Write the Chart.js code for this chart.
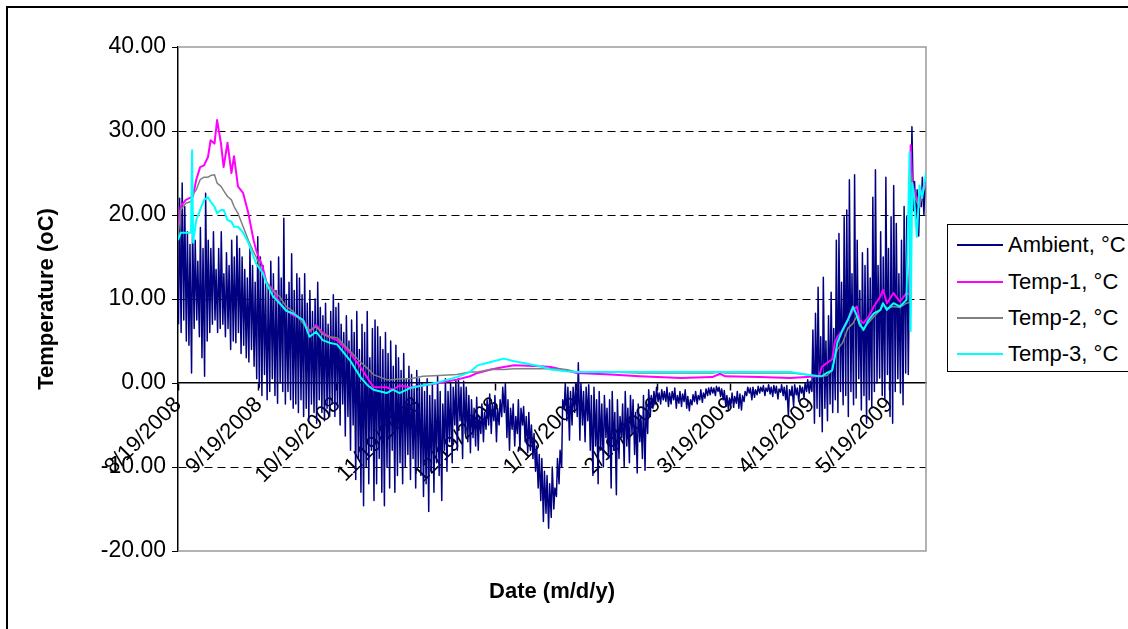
<!DOCTYPE html>
<html>
<head>
<meta charset="utf-8">
<script src="https://cdn.jsdelivr.net/npm/chart.js@4.4.0/dist/chart.umd.min.js"></script>
<style>
  html, body { margin: 0; padding: 0; background: #fff; overflow: hidden; }
  #wrap { position: relative; width: 1128px; height: 629px; font-family: "Liberation Sans", Arial, sans-serif; }
  #frame { position: absolute; left: 6px; top: 6px; width: 1200px; height: 700px; border: 2px solid #000; }
  #graphCanvas { position: absolute; left: 0; top: 0; }
  #legend { position: absolute; left: 947px; top: 224px; width: 220px; height: 146px; border: 1.5px solid #000; background: #fff; }
  .item { position: absolute; left: 0; height: 26px; width: 220px; }
  .swatch { position: absolute; left: 9px; top: 12px; width: 46px; height: 2px; }
  .label { position: absolute; left: 60px; top: 0; font-size: 22px; line-height: 26px; color: #000; white-space: nowrap; }
</style>
</head>
<body>
<div id="wrap">
  <div id="frame"></div>
  <canvas id="graphCanvas" width="1128" height="629"></canvas>
  <div id="legend"></div>
</div>
<script>
// x axis: days since 8/19/2008
var tickDays = [0, 31, 61, 92, 122, 153, 184, 212, 243, 273];
var tickLabels = ['8/19/2008', '9/19/2008', '10/19/2008', '11/19/2008', '12/19/2008',
                  '1/19/2009', '2/19/2009', '3/19/2009', '4/19/2009', '5/19/2009'];

var seriesNames = ['Ambient, °C', 'Temp-1, °C', 'Temp-2, °C', 'Temp-3, °C'];
var seriesColors = ['#000080', '#ff00ff', '#808080', '#00ffff'];

// ambient, daily high / low (day 0 = 8/19/2008)
var ambientHigh = [
  22.0, 23.8, 21.0, 18.0, 16.5, 19.0, 17.0, 14.5, 18.5, 16.0,
  22.6, 17.0, 16.0, 18.0, 13.5, 16.0, 18.0, 13.0, 15.5, 14.0,
  17.0, 15.0, 17.5, 16.0, 15.0, 13.5, 12.5, 16.0, 14.0, 12.0,
  17.4, 15.0, 14.0, 12.0, 11.5, 14.5, 13.0, 11.0, 15.0, 12.5,
  19.6, 10.5, 12.0, 15.4, 11.0, 13.0, 12.5, 10.5, 13.0, 9.5,
  11.0, 8.5, 10.0, 12.0, 9.0, 8.0, 9.5, 7.0, 8.5, 10.5,
  9.0, 9.5, 7.0, 6.0, 8.0, 5.0, 7.5, 6.0, 8.5, 4.0,
  7.0, 6.0, 8.5, 3.0, 6.5, 7.5, 6.7, 5.5, 4.0, 6.0,
  3.5, 5.0, 2.0, 4.5, 3.0, 1.5, 3.5, 0.5, 2.0, 1.0,
  -0.5, 1.5, 0.5, 0.0, -1.0, 0.5, -1.5, 0.0, -2.0, 0.8,
  -1.0, -2.5, 0.5, -1.0, 0.0, -0.5, 0.3, 0.5, -0.5, 0.2,
  -0.5, -1.5, -2.0, -3.0, -1.7, -4.0, -2.5, -3.5, -2.0, -1.3,
  -2.5, -1.5, -3.0, -2.0, -0.5, 0.0, -2.0, -3.0, -2.5, -4.0,
  -2.0, -3.0, -2.8, -4.0, -3.5, -5.0, -6.0, -7.5, -8.5, -9.0,
  -10.5, -11.0, -12.0, -10.0, -12.5, -9.0, -8.0, -2.0, 0.0, -0.5,
  -1.0, -0.5, 0.0, 2.4, 0.0, -1.0, -0.5, -0.2, -1.5, -0.5,
  -2.0, -1.0, -2.5, -1.5, -3.0, -2.0, -1.0, -3.5, -2.0, -4.0,
  -2.5, -1.0, -3.0, -1.5, -2.0, -3.5, -2.5, -3.9, -1.5, -2.5,
  -0.8, -1.5, -1.0, -0.5, -1.2, -0.8, -1.0, -0.5, -1.2, -1.0,
  -0.6, -1.5, -1.0, -1.3, -0.8, -1.6, -2.0, -1.4, -1.0, -1.5,
  -0.8, -1.2, -0.7, -0.6, -0.5, -0.6, -0.4, -0.5, -0.7, -0.9,
  -1.5, -1.8, -1.2, -1.6, -1.0, -1.3, -1.5, -1.0, -0.5, -0.6,
  -0.5, -0.8, -0.4, -0.5, -0.3, -0.6, -0.2, -0.5, -0.3, -0.4,
  -0.7, -0.2, -0.5, -0.3, -0.8, -0.4, -0.2, -0.6, -0.3, -0.5,
  0.0, 0.4, 0.2, 6.3, 8.3, 11.4, 5.5, 12.6, 5.0, 8.0,
  10.8, 6.5, 17.0, 17.8, 12.0, 19.8, 20.6, 24.2, 13.0, 24.8,
  17.0, 11.0, 15.5, 14.0, 16.0, 12.5, 22.1, 25.4, 14.0, 18.0,
  15.0, 24.5, 16.0, 19.8, 23.5, 19.0, 13.0, 17.0, 21.0, 19.8,
  12.0, 30.5, 24.0, 23.0, 22.5, 24.5, 23.5
];
var ambientLow = [
  7.0, 6.0, 7.5, 5.0, 4.5, 1.2, 6.5, 7.5, 5.5, 3.0,
  0.8, 5.0, 6.0, 7.0, 7.5, 6.0, 6.5, 7.0, 5.5, 6.5,
  4.0, 5.0, 4.8, 6.0, 3.5, 4.5, 3.0, 2.5, 4.0, 2.0,
  0.5, -0.5, -1.5, 1.0, -2.0, -1.0, 0.5, -1.5, -2.4, 0.0,
  -1.0, -2.5, -1.0, -2.0, -3.0, -2.5, -3.5, -2.0, -4.0, -3.0,
  -4.5, -2.5, -3.5, -4.8, -2.0, -3.5, -4.5, -3.0, -4.0, -2.5,
  -4.0, -3.0, -5.0, -2.5, -6.3, -4.0, -8.0, -5.0, -11.5, -9.0,
  -13.0, -14.6, -10.0, -12.0, -8.0, -14.0, -12.0, -9.0, -13.0, -14.6,
  -10.0, -12.5, -8.0, -13.0, -11.0, -9.5, -12.0, -10.0, -8.5, -11.5,
  -9.0, -12.5, -10.0, -11.0, -13.5, -12.0, -15.3, -10.5, -13.0, -9.5,
  -11.0, -14.0, -8.0, -10.5, -7.0, -9.5, -5.0, -8.0, -4.5, -9.0,
  -6.0, -7.0, -8.3, -6.5, -7.5, -8.0, -6.0, -7.0, -5.5, -5.0,
  -6.0, -4.5, -7.0, -5.0, -4.0, -3.5, -6.5, -8.0, -5.5, -7.5,
  -6.0, -8.0, -5.0, -7.0, -8.3, -8.0, -9.0, -10.5, -12.5, -14.0,
  -16.5, -15.5, -17.3, -16.0, -15.0, -13.5, -12.0, -10.0, -3.0, -4.5,
  -6.8, -5.0, -3.5, -4.0, -6.8, -5.0, -7.0, -4.5, -8.0, -11.0,
  -7.5, -12.0, -8.0, -10.0, -6.5, -9.0, -12.5, -8.0, -13.3, -9.0,
  -6.5, -10.0, -7.5, -9.5, -6.0, -8.5, -10.7, -7.0, -9.0, -10.4,
  -6.0, -4.0, -3.0, -2.5, -2.2, -2.5, -2.0, -2.2, -2.8, -2.5,
  -2.0, -3.0, -2.4, -2.8, -2.2, -3.0, -3.3, -2.6, -2.2, -2.5,
  -2.0, -2.3, -1.8, -1.5, -1.4, -1.2, -1.5, -1.0, -1.6, -2.0,
  -2.8, -3.2, -2.5, -2.9, -2.4, -3.0, -3.2, -2.2, -1.5, -1.2,
  -2.0, -1.7, -1.4, -1.2, -1.0, -1.5, -1.0, -1.3, -1.6, -1.2,
  -1.9, -1.1, -1.5, -2.0, -4.0, -1.5, -2.8, -1.4, -2.2, -1.2,
  -1.8, -1.0, -1.2, -1.0, -4.8, -3.0, -4.0, -5.8, -3.0, -4.5,
  -2.5, -3.5, -2.0, -3.5, -1.0, -2.6, -1.5, -4.0, -1.0, -2.6,
  -1.8, 0.5, -3.2, -1.5, -4.8, -2.0, -3.0, -1.0, 0.0, 0.6,
  -1.5, -2.0, 1.0, -4.0, -4.8, -1.0, 0.5, -1.2, -2.6, 1.2,
  1.0, 20.0, 20.5, 19.5, 17.5, 21.0, 20.0
];

// probe temperatures, sampled on these days
var tempDays = [
  0, 1, 3, 5, 5.4, 5.8, 7, 8.5, 10, 11.5,
  12.5, 14, 15, 16.5, 17.5, 19, 20.5, 21.5, 23, 25,
  27, 29, 30, 32.5, 34, 36.5, 39, 41.5, 44, 48,
  50.5, 53, 55.5, 58, 61, 66, 70, 72.5, 75, 80,
  82.5, 85, 89, 94, 100, 107, 112, 115, 120, 125,
  129, 139, 143, 149, 153, 166, 177, 193, 205, 208,
  210, 223, 235, 241, 246, 247, 249, 251, 252, 253,
  255, 257, 259, 260.5, 261.5, 263, 265, 267, 269.5, 270.5,
  272, 274.5, 277, 279.5, 280.7, 281.1, 281.7, 282.3, 283.5, 284.5,
  285.5, 287
];
var temp1 = [
  18.6, 21.0, 21.8, 22.1, 22.1, 22.3, 24.2, 25.7, 25.9, 26.9,
  28.9, 28.5, 31.3, 28.5, 25.7, 28.6, 25.0, 27.0, 23.4, 22.6,
  20.2, 17.0, 15.8, 13.8, 11.9, 11.1, 9.5, 8.7, 8.1, 7.5,
  6.1, 6.9, 6.0, 5.5, 5.1, 3.6, 1.9, 0.7, -0.5, -0.5,
  -0.8, -0.3, -0.5, -0.3, 0.0, 0.4, 0.8, 1.2, 1.6, 1.9,
  2.1, 2.0, 1.9, 1.5, 1.2, 1.0, 0.8, 0.6, 0.7, 1.1,
  0.8, 0.7, 0.6, 0.7, 0.8, 1.9, 2.4, 2.8, 4.8, 5.5,
  6.3, 7.5, 8.7, 9.1, 7.5, 7.1, 7.9, 9.1, 10.3, 11.1,
  9.5, 10.7, 9.7, 10.7, 10.5, 28.3, 24.0, 23.0, 22.0, 21.0,
  23.0, 24.0
];
var temp2 = [
  17.4, 20.6, 21.4, 21.6, 22.0, 22.5, 23.0, 24.2, 24.5, 24.5,
  24.7, 24.8, 23.8, 23.4, 22.9, 22.2, 21.8, 21.0, 20.2, 18.6,
  17.0, 15.6, 15.0, 13.1, 12.0, 10.9, 10.3, 9.1, 8.6, 7.1,
  6.3, 6.7, 5.8, 5.5, 5.4, 3.8, 2.5, 1.8, 1.0, 0.4,
  0.4, 0.5, 0.5, 0.8, 0.9, 1.0, 1.3, 1.3, 1.6, 1.6,
  1.7, 1.7, 1.7, 1.6, 1.3, 1.3, 1.2, 1.2, 1.2, 1.3,
  1.2, 1.2, 1.2, 1.0, 0.8, 0.8, 0.9, 1.5, 3.1, 4.0,
  4.8, 6.5, 7.1, 8.0, 6.8, 6.5, 7.2, 7.9, 8.7, 9.3,
  8.9, 9.1, 9.0, 9.5, 9.6, 25.0, 23.5, 22.5, 21.5, 21.0,
  22.5, 23.5
];
var temp3 = [
  17.0, 17.9, 17.9, 17.9, 27.7, 16.7, 19.4, 20.6, 21.8, 22.1,
  21.6, 21.0, 20.2, 20.6, 20.6, 19.4, 19.2, 18.6, 18.6, 17.9,
  16.7, 15.0, 14.2, 13.1, 11.8, 10.3, 9.5, 8.6, 8.3, 7.5,
  5.5, 6.1, 5.1, 4.8, 4.6, 2.7, 0.7, -0.2, -0.8, -1.2,
  -0.8, -1.2, -0.6, -0.3, 0.1, 0.7, 1.3, 2.1, 2.5, 2.9,
  2.6, 2.0, 1.6, 1.4, 1.3, 1.3, 1.3, 1.3, 1.3, 1.3,
  1.3, 1.3, 1.3, 1.0, 0.8, 0.8, 1.2, 1.5, 3.1, 4.8,
  6.3, 7.5, 9.1, 8.0, 7.1, 6.3, 7.5, 8.3, 8.7, 9.5,
  8.7, 9.5, 9.1, 9.9, 27.5, 6.2, 23.8, 22.6, 17.4, 23.5,
  22.0, 25.0
];

var fontFamily = '"Liberation Sans", Arial, sans-serif';

function ambientPoints() {
  var pts = [];
  for (var d = 0; d < ambientHigh.length; d++) {
    pts.push({x: d + 0.2, y: ambientLow[d]});
    pts.push({x: d + 0.6, y: ambientHigh[d]});
  }
  return pts;
}

function tempPoints(vals) {
  return tempDays.map(function (d, i) { return {x: d, y: vals[i]}; });
}

// grey box round the plot, like the excel plot area
var plotFrame = {
  id: 'plotFrame',
  beforeDatasetsDraw: function (chart) {
    var ctx = chart.ctx, a = chart.chartArea;
    ctx.save();
    ctx.strokeStyle = '#9a9a9a';
    ctx.lineWidth = 1.5;
    ctx.beginPath();
    ctx.moveTo(a.left, a.top);
    ctx.lineTo(a.right, a.top);
    ctx.lineTo(a.right, a.bottom);
    ctx.lineTo(a.left, a.bottom);
    ctx.stroke();
    ctx.restore();
  }
};

function makeLegend() {
  var box = document.getElementById('legend');
  var tops = [7, 44, 80, 116];
  seriesNames.forEach(function (name, i) {
    var item = document.createElement('div');
    item.className = 'item';
    item.style.top = tops[i] + 'px';
    item.innerHTML = '<div class="swatch" style="background:' + seriesColors[i] + '"></div>' +
                     '<div class="label">' + name + '</div>';
    box.appendChild(item);
  });
}

function showGraph() {
  var graphTarget = document.getElementById('graphCanvas');
  var series = [ambientPoints(), tempPoints(temp1), tempPoints(temp2), tempPoints(temp3)];
  var widths = [1.5, 2, 1.5, 2];

  var chartdata = {
    datasets: series.map(function (pts, i) {
      return {
        label: seriesNames[i],
        data: pts,
        borderColor: seriesColors[i],
        backgroundColor: seriesColors[i],
        borderWidth: widths[i],
        borderJoinStyle: 'round',
        pointRadius: 0,
        tension: 0,
        fill: false,
        order: 4 - i
      };
    })
  };

  new Chart(graphTarget, {
    type: 'line',
    data: chartdata,
    options: {
      responsive: false,
      animation: false,
      layout: { padding: { left: 0, top: 47, right: 202, bottom: 13.8 } },
      plugins: {
        legend: { display: false },
        tooltip: { enabled: false },
        title: {
          display: true,
          text: 'Date (m/d/y)',
          position: 'bottom',
          fullSize: false,
          color: '#000',
          font: { family: fontFamily, size: 22, weight: 'bold' },
          padding: { top: 27.8, bottom: 10 }
        }
      },
      scales: {
        x: {
          type: 'linear',
          position: { y: 0 },
          min: 0,
          max: 287,
          afterBuildTicks: function (scale) {
            scale.ticks = tickDays.map(function (v) { return {value: v}; });
          },
          ticks: {
            autoSkip: false,
            maxRotation: 45,
            minRotation: 45,
            padding: 2,
            color: '#000',
            font: { family: fontFamily, size: 22 },
            callback: function (value) { return tickLabels[tickDays.indexOf(value)]; }
          },
          grid: { drawOnChartArea: false, tickLength: 7, tickColor: '#000', tickWidth: 1.5 },
          border: { color: '#000', width: 1.5 }
        },
        y: {
          min: -20,
          max: 40,
          afterFit: function (scale) { scale.width = 178; },
          ticks: {
            stepSize: 10,
            padding: 6,
            color: '#000',
            font: { family: fontFamily, size: 23 },
            callback: function (v) { return v.toFixed(2); }
          },
          grid: {
            color: function (c) {
              return (c.tick && [10, 20, 30, -10].indexOf(c.tick.value) >= 0) ? '#000' : 'rgba(0,0,0,0)';
            },
            lineWidth: 1,
            tickColor: '#000',
            tickLength: 6,
            tickBorderDash: []
          },
          border: { color: '#000', width: 1.5, dash: [8, 5] },
          title: {
            display: true,
            text: 'Temperature (oC)',
            color: '#000',
            font: { family: fontFamily, size: 22, weight: 'bold' },
            padding: { top: 34, bottom: 0 }
          }
        }
      }
    },
    plugins: [plotFrame]
  });
}

makeLegend();
showGraph();
</script>
</body>
</html>
